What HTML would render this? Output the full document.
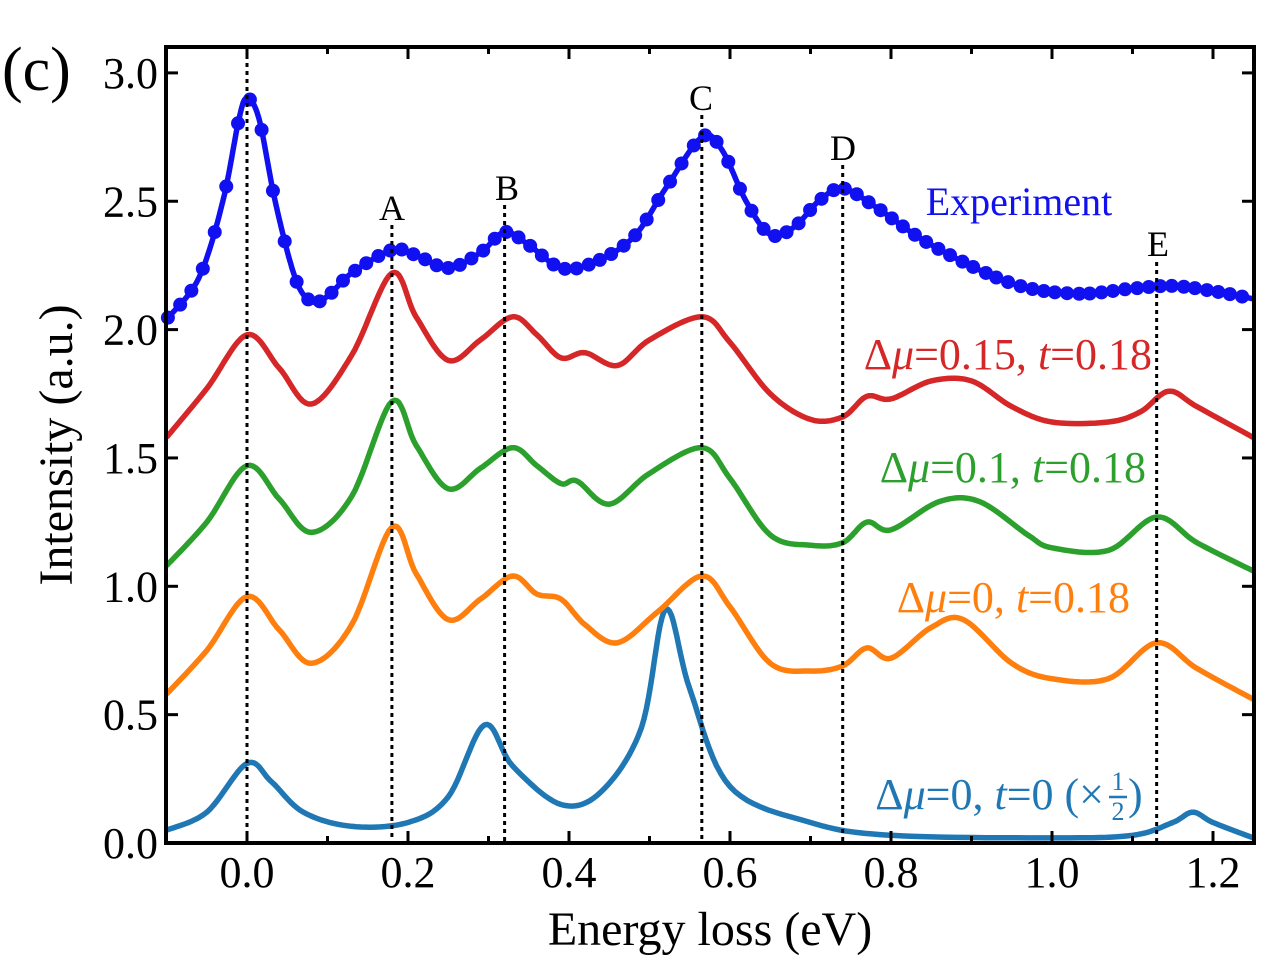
<!DOCTYPE html>
<html><head><meta charset="utf-8"><style>
body{margin:0;background:#fff}
svg text{font-family:"Liberation Serif",serif}
</style></head><body>
<svg id="s" width="1280" height="960" xmlns="http://www.w3.org/2000/svg">
<rect width="1280" height="960" fill="#fff"/>
<g id="dots"></g>
<g id="curves"></g>
<g id="axes"></g>
<rect x="166" y="47" width="1088" height="796" fill="none" stroke="#000" stroke-width="4"/>
<text x="2" y="90" font-size="62">(c)</text>
<text x="710" y="945" font-size="48" text-anchor="middle">Energy loss (eV)</text>
<text transform="translate(72,445) rotate(-90)" font-size="48" text-anchor="middle">Intensity (a.u.)</text>
<text x="392" y="220" font-size="36" text-anchor="middle">A</text>
<text x="507" y="200" font-size="36" text-anchor="middle">B</text>
<text x="701" y="110" font-size="36" text-anchor="middle">C</text>
<text x="843" y="160" font-size="36" text-anchor="middle">D</text>
<text x="1158" y="256" font-size="36" text-anchor="middle">E</text>
<text x="1019" y="215" font-size="40" fill="#1010f0" text-anchor="middle">Experiment</text>
<text x="1152" y="369" font-size="44" fill="#d62728" text-anchor="end">Δ<tspan font-style="italic">μ</tspan>=0.15, <tspan font-style="italic">t</tspan>=0.18</text>
<text x="1146" y="482" font-size="44" fill="#2ca02c" text-anchor="end">Δ<tspan font-style="italic">μ</tspan>=0.1, <tspan font-style="italic">t</tspan>=0.18</text>
<text x="1130" y="612" font-size="44" fill="#ff7f0e" text-anchor="end">Δ<tspan font-style="italic">μ</tspan>=0, <tspan font-style="italic">t</tspan>=0.18</text>
<text x="1104" y="809" font-size="44" fill="#1f77b4" text-anchor="end">Δ<tspan font-style="italic">μ</tspan>=0, <tspan font-style="italic">t</tspan>=0 (×</text>
<text x="1118" y="790" font-size="26" fill="#1f77b4" text-anchor="middle">1</text>
<line x1="1109" y1="797" x2="1127" y2="797" stroke="#1f77b4" stroke-width="2.5"/>
<text x="1118" y="820" font-size="26" fill="#1f77b4" text-anchor="middle">2</text>
<text x="1128" y="809" font-size="44" fill="#1f77b4">)</text>
</svg>
<script>
const X=e=>247+805*e, Y=v=>843-256.7*v;
const NS="http://www.w3.org/2000/svg";
function el(p,t,a){const e=document.createElementNS(NS,t);for(const k in a)e.setAttribute(k,a[k]);p.appendChild(e);return e;}
function cr(pts,n){const out=[];for(let i=0;i<pts.length-1;i++){const p0=pts[Math.max(0,i-1)],p1=pts[i],p2=pts[i+1],p3=pts[Math.min(pts.length-1,i+2)];
for(let j=0;j<n;j++){const t=j/n,t2=t*t,t3=t2*t;const f=(a,b,c,d)=>0.5*(2*b+(-a+c)*t+(2*a-5*b+4*c-d)*t2+(-a+3*b-3*c+d)*t3);out.push([f(p0[0],p1[0],p2[0],p3[0]),f(p0[1],p1[1],p2[1],p3[1])]);}}
out.push(pts[pts.length-1]);return out;}
function path(pts,col,g){const c=cr(pts,12);el(g,"path",{d:"M"+c.map(p=>X(p[0]).toFixed(1)+","+Y(p[1]).toFixed(1)).join("L"),fill:"none",stroke:col,"stroke-width":5.5,"stroke-linejoin":"round"});return c;}
const ax=document.getElementById("axes"),cv=document.getElementById("curves");
[[0,47],[0.18,225],[0.32,205],[0.565,115],[0.74,165],[1.13,262]].forEach(([e,y0])=>el(ax,"line",{x1:X(e),x2:X(e),y1:y0,y2:843,stroke:"#000","stroke-width":3,"stroke-dasharray":"4,4"}));
for(let i=-1;i<=12;i++){const x=X(i/10),maj=i%2==0;el(ax,"line",{x1:x,x2:x,y1:843,y2:843-(maj?12:7),stroke:"#000","stroke-width":3});el(ax,"line",{x1:x,x2:x,y1:47,y2:47+(maj?12:7),stroke:"#000","stroke-width":3});
if(maj){el(ax,"text",{x:x,y:887,"font-size":44,"text-anchor":"middle"}).textContent=(i/10).toFixed(1);}}
for(let i=0;i<=6;i++){const v=i/2,y=Y(v);el(ax,"line",{x1:166,x2:178,y1:y,y2:y,stroke:"#000","stroke-width":3});el(ax,"line",{x1:1254,x2:1242,y1:y,y2:y,stroke:"#000","stroke-width":3});
el(ax,"text",{x:158,y:y+15,"font-size":44,"text-anchor":"end"}).textContent=v.toFixed(1);}
const exp=[[-0.1,2.04],[-0.06,2.2],[-0.03,2.5],[-0.01,2.82],[0,2.9],[0.015,2.82],[0.035,2.5],[0.06,2.2],[0.08,2.11],[0.1,2.13],[0.13,2.22],[0.18,2.31],[0.21,2.29],[0.25,2.24],[0.29,2.3],[0.32,2.38],[0.35,2.33],[0.39,2.24],[0.43,2.26],[0.48,2.36],[0.52,2.55],[0.565,2.75],[0.59,2.7],[0.62,2.5],[0.65,2.37],[0.68,2.4],[0.71,2.5],[0.74,2.55],[0.78,2.48],[0.85,2.33],[0.95,2.18],[1.03,2.14],[1.1,2.16],[1.15,2.17],[1.2,2.15],[1.25,2.12]];
const red=[[-0.1,1.58],[-0.05,1.77],[0,1.98],[0.04,1.85],[0.08,1.71],[0.13,1.9],[0.18,2.22],[0.21,2.05],[0.25,1.88],[0.29,1.96],[0.33,2.05],[0.36,1.98],[0.39,1.89],[0.42,1.91],[0.46,1.86],[0.5,1.96],[0.565,2.05],[0.6,1.95],[0.65,1.75],[0.7,1.65],[0.74,1.66],[0.77,1.74],[0.8,1.73],[0.85,1.8],[0.9,1.8],[0.95,1.7],[1.0,1.64],[1.07,1.64],[1.11,1.68],[1.145,1.76],[1.18,1.7],[1.25,1.58]];
const grn=[[-0.1,1.08],[-0.05,1.25],[0,1.47],[0.04,1.34],[0.08,1.21],[0.13,1.35],[0.18,1.72],[0.21,1.55],[0.25,1.38],[0.29,1.46],[0.33,1.54],[0.36,1.47],[0.39,1.4],[0.41,1.41],[0.45,1.32],[0.5,1.44],[0.565,1.54],[0.6,1.42],[0.65,1.2],[0.7,1.16],[0.74,1.17],[0.77,1.25],[0.8,1.22],[0.86,1.33],[0.91,1.33],[0.97,1.2],[1.0,1.15],[1.07,1.14],[1.13,1.27],[1.18,1.17],[1.25,1.06]];
const org=[[-0.1,0.58],[-0.05,0.75],[0,0.96],[0.04,0.83],[0.08,0.7],[0.13,0.85],[0.18,1.23],[0.21,1.05],[0.25,0.87],[0.29,0.95],[0.33,1.04],[0.36,0.97],[0.39,0.95],[0.42,0.85],[0.46,0.78],[0.51,0.9],[0.565,1.04],[0.6,0.92],[0.65,0.7],[0.7,0.67],[0.74,0.69],[0.77,0.76],[0.8,0.72],[0.85,0.84],[0.89,0.87],[0.95,0.7],[1.0,0.64],[1.07,0.64],[1.13,0.78],[1.18,0.68],[1.25,0.56]];
const blu=[[-0.1,0.05],[-0.05,0.12],[0,0.31],[0.03,0.24],[0.07,0.12],[0.13,0.065],[0.2,0.08],[0.25,0.18],[0.295,0.46],[0.33,0.3],[0.39,0.15],[0.44,0.2],[0.49,0.45],[0.52,0.91],[0.55,0.6],[0.6,0.22],[0.7,0.08],[0.8,0.03],[1.0,0.02],[1.1,0.03],[1.15,0.08],[1.175,0.12],[1.2,0.08],[1.25,0.02]];
path(blu,"#1f77b4",cv);path(org,"#ff7f0e",cv);path(grn,"#2ca02c",cv);path(red,"#d62728",cv);
path(exp,"#1010f0",cv);
const dense=cr(exp,40);
for(let e=-0.098;e<=1.25;e+=0.0145){let best=dense[0];for(const p of dense)if(Math.abs(p[0]-e)<Math.abs(best[0]-e))best=p;el(cv,"circle",{cx:X(best[0]),cy:Y(best[1]),r:7,fill:"#1010f0"});}
</script>
</body></html>
